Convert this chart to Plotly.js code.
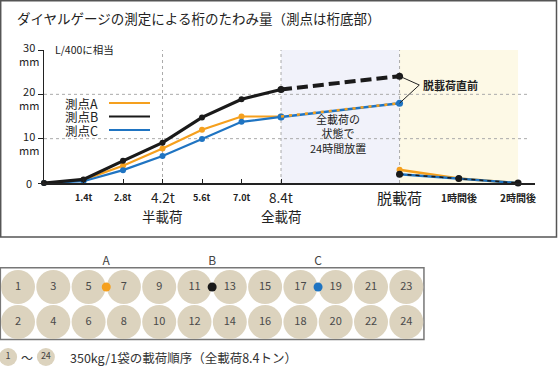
<!DOCTYPE html>
<html><head><meta charset="utf-8">
<script src="https://cdn.plot.ly/plotly-3.0.1.min.js"></script>
<style>html,body{margin:0;padding:0;background:#fff}#chart{width:558px;height:370px}</style>
</head><body><div id="chart"></div>
<script>
// ---------- data ----------
const loadX = [0, 1.4, 2.8, 4.2, 5.6, 7.0, 8.4];
const seriesA = [0, 0.7, 3.9, 7.8, 12.0, 15.0, 15.0];
const seriesB = [0, 0.8, 5.0, 9.1, 14.8, 18.9, 21.1];
const seriesC = [0, 0.4, 2.9, 6.1, 9.9, 13.8, 14.9];
const holdX = [8.4, 12.6];
const preUnloadA = 18.0, preUnloadB = 24.1, preUnloadC = 18.0;
const unloadX = [12.6, 14.7, 16.8];
const unloadA = [3.0, 1.0, 0];
const unloadB = [2.0, 1.0, 0];
const unloadC = [2.0, 1.0, 0];
const seriesNames = ['測点A', '測点B', '測点C'];
const tickX = [1.4, 2.8, 4.2, 5.6, 7.0, 8.4, 12.6, 14.7, 16.8];
const tickText = ['1.4t', '2.8t', '4.2t', '5.6t', '7.0t', '8.4t', '脱載荷', '1時間後', '2時間後'];
const subTickX = [4.2, 8.4];
const subTickText = ['半載荷', '全載荷'];
const yTickVals = [0, 10, 20, 30];
const yTickText = ['0', '10<br>mm', '20<br>mm', '30<br>mm'];
const topNums = [1, 3, 5, 7, 9, 11, 13, 15, 17, 19, 21, 23];
const bottomNums = [2, 4, 6, 8, 10, 12, 14, 16, 18, 20, 22, 24];
const pointCols = [2.5, 5.5, 8.5];
const pointNames = ['A', 'B', 'C'];

// ---------- styles ----------
const F = 'Noto Sans CJK JP, Noto Sans, sans-serif';
const cA = '#f5a01e', cB = '#1a1a1a', cC = '#1f74c2';
const colors = [cA, cB, cC];
const py = p => 1 - p / 370;
const px = p => p / 558;
const tickStyle = {'1.4t':[9,700],'2.8t':[9,700],'4.2t':[13.5,400],'5.6t':[9,700],'7.0t':[9,700],'8.4t':[13.5,400],'脱載荷':[15,400],'1時間後':[10,700],'2時間後':[10,700]};

const traces = [];
// loading stage
traces.push({x: loadX, y: seriesA, xaxis:'x', yaxis:'y', mode:'lines+markers', line:{color:cA, width:2.2}, marker:{color:cA, size:6}});
traces.push({x: loadX, y: seriesC, xaxis:'x', yaxis:'y', mode:'lines+markers', line:{color:cC, width:2.2}, marker:{color:cC, size:6}});
traces.push({x: loadX, y: seriesB, xaxis:'x', yaxis:'y', mode:'lines+markers', line:{color:cB, width:3.2}, marker:{color:cB, size:6}});
// holding stage
traces.push({x: holdX, y: [seriesC[6], preUnloadC], mode:'lines+markers', line:{color:cC, width:2.5}, marker:{color:cC, size:7}});
traces.push({x: holdX, y: [seriesA[6], preUnloadA], mode:'lines', line:{color:cA, width:2.5, dash:'3px,5px'}});
traces.push({x: holdX, y: [seriesB[6], preUnloadB], mode:'lines+markers', line:{color:cB, width:4, dash:'11px,5px'}, marker:{color:cB, size:7}});
// callout
traces.push({x: [12.6, 13.3, 12.6], y: [preUnloadB, 22.1, preUnloadC], mode:'lines', line:{color:'#222', width:1}});
// unloading stage
traces.push({x: unloadX, y: unloadA, mode:'lines+markers', line:{color:cA, width:2.5}, marker:{color:cA, size:6}});
traces.push({x: unloadX, y: unloadC, mode:'lines+markers', line:{color:cC, width:2.5}, marker:{color:cC, size:6}});
traces.push({x: unloadX, y: unloadB, mode:'lines+markers', line:{color:cB, width:1.5, dash:'4px,4px'}, marker:{color:cB, size:7}});

// bottom diagram
const cols = topNums.map((_, i) => i);
traces.push({x: cols, y: cols.map(() => 0), xaxis:'x2', yaxis:'y2', mode:'markers+text', text: topNums.map(String), textposition:'middle center', textfont:{family:F, size:11, color:'#4a4a4a'}, marker:{size:34, color:'#dcd3be'}});
traces.push({x: cols, y: cols.map(() => 1), xaxis:'x2', yaxis:'y2', mode:'markers+text', text: bottomNums.map(String), textposition:'middle center', textfont:{family:F, size:11, color:'#4a4a4a'}, marker:{size:34, color:'#dcd3be'}});
traces.push({x: pointCols, y: pointCols.map(() => 0), xaxis:'x2', yaxis:'y2', mode:'markers', marker:{size:9, color:colors}});
traces.push({x: pointCols, y: pointCols.map(() => -0.72), xaxis:'x2', yaxis:'y2', mode:'text', text: pointNames, textposition:'middle center', textfont:{family:F, size:12, color:'#444'}});
traces.push({x: [-0.28, 0.79], y: [2, 2], xaxis:'x2', yaxis:'y2', mode:'markers+text', text:[String(topNums[0]), String(bottomNums[bottomNums.length-1])], textposition:'middle center', textfont:{family:F, size:9, color:'#444'}, marker:{size:18, color:'#dcd3be'}});

traces.forEach(t => { t.showlegend = false; t.hoverinfo = 'skip'; t.cliponaxis = false; });

const annotations = [];
annotations.push({xref:'paper', yref:'paper', x:px(15), y:py(18), xanchor:'left', yanchor:'middle', text:'ダイヤルゲージの測定による桁のたわみ量（測点は桁底部）', showarrow:false, font:{family:F, size:13.5, color:'#222'}});
annotations.push({xref:'x', yref:'y', x:0.32, y:30, xanchor:'left', yanchor:'middle', text:'L/400に相当', showarrow:false, font:{family:F, size:10.5, color:'#222'}});
yTickVals.forEach((v, i) => annotations.push({xref:'paper', yref:'y', x:px(29), y:v, xanchor:'center', yanchor:'middle', yshift: i === 0 ? 0 : -4, text:yTickText[i], showarrow:false, font:{family:F, size:11, color:'#222'}}));
tickX.forEach((v, i) => { const s = tickStyle[tickText[i]]; annotations.push({xref:'x', yref:'paper', x:v, y:py(197), xanchor:'center', yanchor:'middle', borderpad:0, text:tickText[i], showarrow:false, font:{family:F, size:s[0], weight:s[1], color:'#222'}}); });
subTickX.forEach((v, i) => annotations.push({xref:'x', yref:'paper', x:v, y:py(216), xanchor:'center', yanchor:'middle', borderpad:0, text:subTickText[i], showarrow:false, font:{family:F, size:13.5, color:'#222'}}));
annotations.push({xref:'x', yref:'y', x:13.35, y:22.1, xanchor:'left', yanchor:'middle', text:'脱載荷直前', showarrow:false, font:{family:F, size:11, weight:700, color:'#222'}});
annotations.push({xref:'x', yref:'y', x:10.42, y:11.1, xanchor:'center', yanchor:'middle', text:'全載荷の<br>状態で<br>24時間放置', showarrow:false, font:{family:F, size:11, color:'#222'}});
annotations.push({xref:'x2', yref:'y2', x:0.25, y:2, xanchor:'center', yanchor:'middle', text:'～', showarrow:false, font:{family:F, size:12, color:'#333'}});
annotations.push({xref:'x2', yref:'y2', x:1.42, y:2, xanchor:'left', yanchor:'middle', text:'350kg/1袋の載荷順序（全載荷8.4トン）', showarrow:false, font:{family:F, size:12.5, color:'#333'}});

const shapes = [];
// shaded regions
shapes.push({type:'rect', xref:'x', yref:'y', x0:holdX[0], x1:holdX[1], y0:0, y1:30, fillcolor:'#f1f2fa', line:{width:0}, layer:'below'});
shapes.push({type:'rect', xref:'x', yref:'y', x0:unloadX[0], x1:unloadX[2], y0:0, y1:30, fillcolor:'#fdf9e6', line:{width:0}, layer:'below'});
// grid
[10, 20].forEach(v => shapes.push({type:'line', xref:'x', yref:'y', x0:0, x1:17.2, y0:v, y1:v, line:{color:'#aaa', width:1, dash:'3px,3px'}, layer:'below'}));
[4.2, 8.4, 12.6].forEach(v => shapes.push({type:'line', xref:'x', yref:'y', x0:v, x1:v, y0:0, y1:30, line:{color:'#aaa', width:1, dash:'3px,3px'}, layer:'below'}));
// legend
seriesNames.forEach((n, i) => {
  const yy = py(103 + i * 13.5);
  annotations.push({xref:'paper', yref:'paper', x:px(64), y:yy, xanchor:'left', yanchor:'middle', borderpad:0, text:n, showarrow:false, font:{family:F, size:12.5, color:'#222'}});
  shapes.push({type:'line', xref:'paper', yref:'paper', x0:px(109), x1:px(150), y0:yy, y1:yy, line:{color:colors[i], width:2}});
});
// frame
shapes.push({type:'rect', xref:'paper', yref:'paper', x0:px(0.7), x1:px(556.5), y0:py(237), y1:py(0.7), line:{color:'#555', width:1.5}});
// bottom box
shapes.push({type:'rect', xref:'x2', yref:'y2', x0:-0.5, x1:11.5, y0:-0.55, y1:1.5, line:{color:'#777', width:1.5}, layer:'below'});

const layout = {
  width:558, height:370, autosize:false, margin:{l:0, r:0, t:0, b:0},
  paper_bgcolor:'#fff', plot_bgcolor:'rgba(0,0,0,0)', showlegend:false,
  font:{family:F},
  xaxis:{domain:[px(44), px(535)], range:[0, 17.4], showgrid:false, zeroline:false, showline:true, linecolor:'#222', linewidth:1.5, ticks:'inside', tickvals:loadX.slice(1), ticklen:4, tickcolor:'#222', showticklabels:false, fixedrange:true},
  yaxis:{domain:[py(183), py(50)], range:[0, 30], showgrid:false, zeroline:false, showline:true, linecolor:'#222', linewidth:1.5, ticks:'outside', tickvals:yTickVals, ticklen:5, tickcolor:'#222', showticklabels:false, fixedrange:true},
  xaxis2:{domain:[0, 1], range:[-18/35.3, 540/35.3], visible:false, anchor:'y2'},
  yaxis2:{domain:[0, py(245)], range:[2.371, -1.2], visible:false, anchor:'x2'},
  annotations, shapes
};
Plotly.newPlot('chart', traces, layout, {staticPlot:true, displayModeBar:false});
</script></body></html>
